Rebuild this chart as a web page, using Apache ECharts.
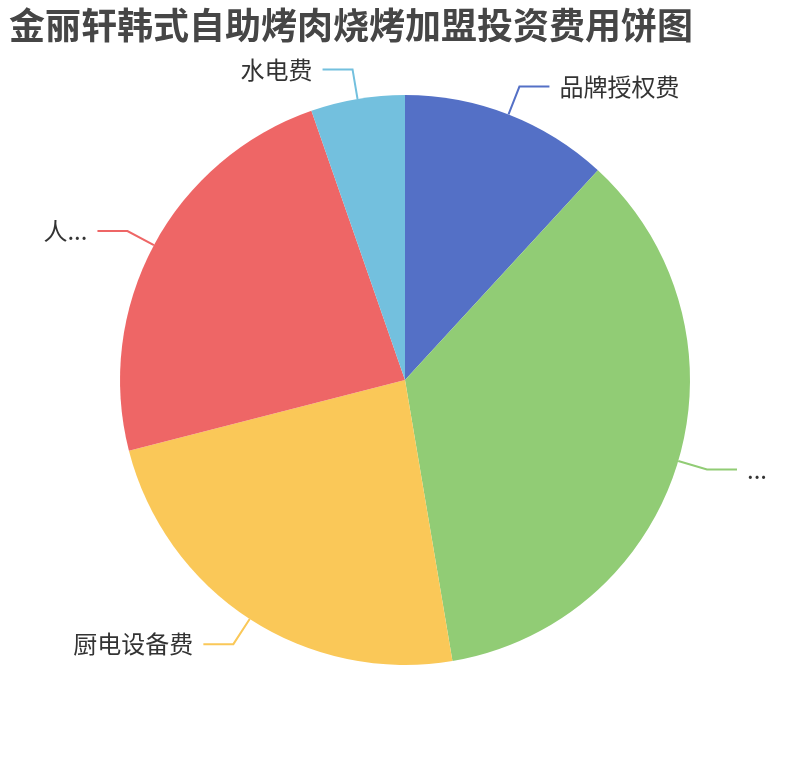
<!DOCTYPE html>
<html>
<head>
<meta charset="utf-8">
<script src="https://cdn.jsdelivr.net/npm/echarts@6/dist/echarts.min.js"></script>
<style>
html,body{margin:0;padding:0;background:#fff;}
#main{width:810px;height:760px;}
</style>
</head>
<body>
<div id="main"></div>
<script>
const titleText = '金丽轩韩式自助烤肉烧烤加盟投资费用饼图';
const categories = ['品牌授权费', '店面装修费', '厨电设备费', '人员工资', '水电费'];
const values = [2, 6, 4, 4, 0.9];
const colors = ['#5470c6', '#91cc75', '#fac858', '#ee6666', '#73c0de'];

const chart = echarts.init(document.getElementById('main'));
chart.setOption({
  animation: false,
  color: colors,
  title: {
    text: titleText,
    left: 4,
    top: 2,
    textStyle: {
      fontSize: 36,
      fontWeight: 'bold',
      color: '#464646',
      fontFamily: 'Noto Sans CJK SC'
    }
  },
  series: [{
    type: 'pie',
    radius: '75%',
    center: ['50%', '50%'],
    startAngle: 90,
    label: {
      show: true,
      position: 'outside',
      fontSize: 24,
      color: '#333',
      fontFamily: 'Noto Sans CJK SC',
      bleedMargin: 20,
      distanceToLabelLine: 10
    },
    labelLine: {
      length: 30,
      length2: 30,
      lineStyle: { width: 2 }
    },
    data: categories.map((name, i) => ({ name: name, value: values[i] }))
  }]
});
</script>
</body>
</html>
